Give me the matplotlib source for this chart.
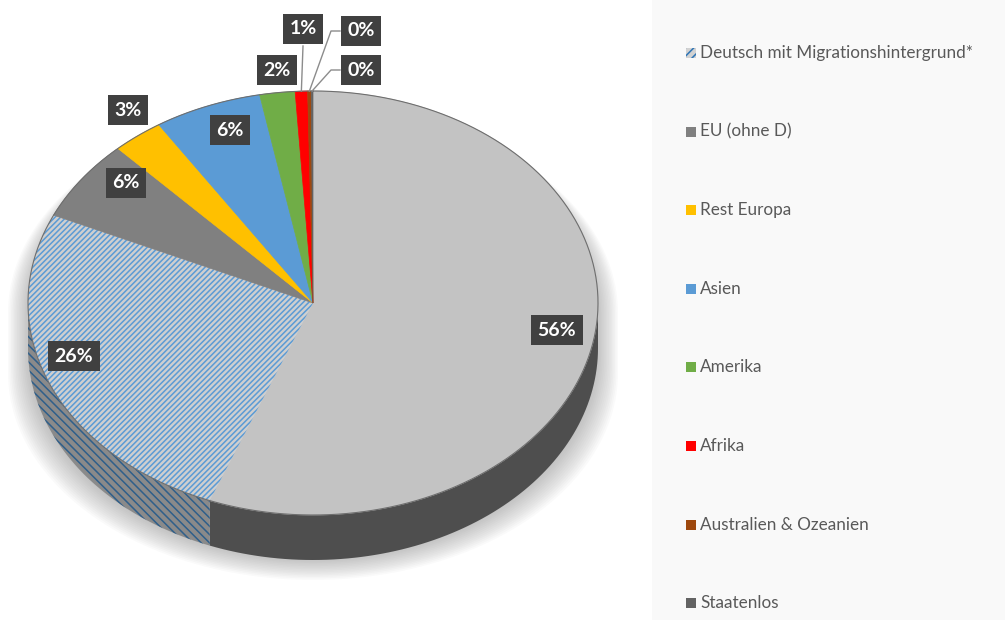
import numpy as np
import matplotlib.pyplot as plt
from matplotlib.patches import Polygon, Rectangle

plt.rcParams['font.family'] = ['Lato', 'DejaVu Sans']
plt.rcParams['hatch.linewidth'] = 1.1

# Daten (Anteile in %)
kategorien = ['Deutsch ohne Migrationshintergrund', 'Deutsch mit Migrationshintergrund*',
              'EU (ohne D)', 'Rest Europa', 'Asien', 'Amerika', 'Afrika',
              'Australien & Ozeanien', 'Staatenlos']
werte = [55.9, 25.9, 6.2, 2.9, 6.1, 2.0, 0.7, 0.2, 0.1]
farben = ['#C3C3C3', '#CFCFCF', '#808080', '#FFC000', '#5B9BD5', '#70AD47',
          '#FF0000', '#9E480E', '#636363']
seiten = ['#4E4E4E', '#8A8A8A', '#505050', '#B38600', '#3E6F9E', '#4F7A32',
          '#B30000', '#6E320A', '#444444']

# Geometrie der Torte (Pixel)
cx, cy, rx, ry, tiefe = 313, 303, 285, 212, 45

# Positionen der Beschriftungen
label_pos = [(557, 330), (74, 356), (126, 183), (128, 110), (230, 130),
             (277, 70), (303, 29), (361, 31), (361, 70)]

fig = plt.figure(figsize=(10.05, 6.2), dpi=100)
ax = fig.add_axes([0, 0, 1, 1])
ax.set_xlim(0, 1005)
ax.set_ylim(620, 0)
ax.axis('off')


def punkt(a, r=1.0, dy=0.0):
    a = np.radians(a)
    return cx + rx * r * np.sin(a), cy - ry * r * np.cos(a) + dy


def silhouette(sx, sy, oben_dy, d):
    t = np.linspace(0, np.pi, 100)
    oben = np.column_stack([cx + sx * np.cos(t), cy + oben_dy - sy * np.sin(t)])
    t2 = np.linspace(np.pi, 2 * np.pi, 100)
    unten = np.column_stack([cx + sx * np.cos(t2), cy + d - sy * np.sin(t2)])
    return np.vstack([oben, unten])


# weicher Schatten
for i in range(14):
    k = i / 13
    ax.add_patch(Polygon(silhouette(rx + 20 - 20 * k, ry - 5, 10, tiefe + 25 - 20 * k),
                         closed=True, fc='#808080', ec='none', alpha=0.04, zorder=1))

anteile = np.array(werte) / sum(werte)
grenzen = np.concatenate([[0], np.cumsum(anteile)]) * 360

# Seitenwände
for i in range(len(werte)):
    a0, a1 = max(grenzen[i], 90), min(grenzen[i + 1], 270)
    if a1 <= a0:
        continue
    aa = np.linspace(a0, a1, 80)
    ob = np.column_stack(punkt(aa))
    un = np.column_stack(punkt(aa, dy=tiefe))[::-1]
    if i == 1:
        ax.add_patch(Polygon(np.vstack([ob, un]), closed=True, fc=seiten[i],
                             ec='#2F5F8A', lw=0, hatch='\\\\\\\\', zorder=2))
    else:
        ax.add_patch(Polygon(np.vstack([ob, un]), closed=True, fc=seiten[i],
                             ec='none', zorder=2))

# Deckfläche
for i in range(len(werte)):
    aa = np.linspace(grenzen[i], grenzen[i + 1], 200)
    pts = np.vstack([[cx, cy], np.column_stack(punkt(aa))])
    if i == 1:
        ax.add_patch(Polygon(pts, closed=True, fc=farben[i], ec='#5B9BD5', lw=0,
                             hatch='//////', zorder=3))
    else:
        ax.add_patch(Polygon(pts, closed=True, fc=farben[i], ec=farben[i], lw=0.5,
                             zorder=3))

rand = np.linspace(0, 360, 400)
ax.plot(*punkt(rand), color='#6E6E6E', lw=0.8, zorder=4)

# Beschriftungen
for i, (x, y) in enumerate(label_pos):
    pct = werte[i] / sum(werte) * 100
    ax.text(x, y, f'{pct:.0f}%', ha='center', va='center', color='white',
            fontsize=14, fontweight='bold', zorder=6,
            bbox=dict(boxstyle='square,pad=0.35', fc='#404040', ec='none'))
    mitte = (grenzen[i] + grenzen[i + 1]) / 2
    rx0, ry0 = punkt(mitte)
    if i == 6:
        ax.plot([x, rx0], [y + 17, ry0], color='#8C8C8C', lw=1, zorder=5)
    elif i > 6:
        ax.plot([x - 21, x - 30, rx0], [y, y, ry0], color='#8C8C8C', lw=1, zorder=5)

# Legende
ax.add_patch(Rectangle((652, 0), 353, 620, fc='#F9F9F9', ec='none', zorder=0))
for j, i in enumerate(range(1, len(kategorien))):
    y = 53 + j * 78.6
    if i == 1:
        ax.add_patch(Rectangle((686, y - 5), 10, 10, fc='#D2D2D2', ec='#2E75B6',
                               lw=0, hatch='////', zorder=5))
    else:
        ax.add_patch(Rectangle((686, y - 5), 10, 10, fc=farben[i], ec='none', zorder=5))
    ax.text(700, y, kategorien[i], ha='left', va='center', color='#595959',
            fontsize=12.3, zorder=5)

plt.savefig('out.png', dpi=100)
